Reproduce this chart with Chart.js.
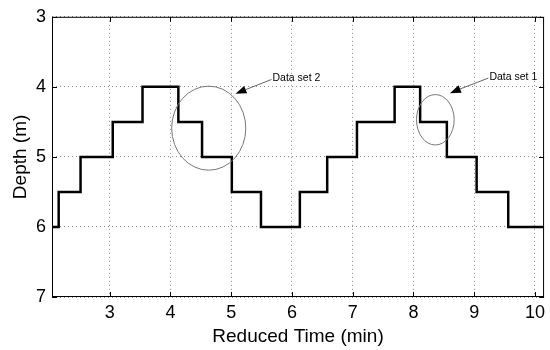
<!DOCTYPE html>
<html>
<head>
<meta charset="utf-8">
<script src="https://cdn.jsdelivr.net/npm/chart.js@4/dist/chart.umd.min.js"></script>
<style>
  html,body{margin:0;padding:0;background:#fff;}
  #wrap{width:550px;height:350px;}
</style>
</head>
<body>
<div id="wrap"><canvas id="c" width="550" height="350"></canvas></div>
<script>
// step profile: time where each depth level starts, and the depth held from there
const stepTimes  = [2.05, 2.16, 2.52, 3.05, 3.54, 4.13, 4.52, 5.01, 5.49, 6.13, 6.58, 7.07, 7.69, 8.11, 8.55, 9.04, 9.56, 10.15];
const stepDepths = [6, 5.5, 5, 4.5, 4, 4.5, 5, 5.5, 6, 5.5, 5, 4.5, 4, 4.5, 5, 5.5, 6, 6];
const xTicks = [3, 4, 5, 6, 7, 8, 9, 10];
const yTicks = [3, 4, 5, 6, 7];
const xRange = [2.05, 10.15];
const yRange = [3, 7];

// annotations (data units)
const noteLabels = ['Data set 2', 'Data set 1'];
const noteText   = [[5.68, 3.88], [9.25, 3.86]];
const noteTip    = [[5.07, 4.10], [8.60, 4.09]];
const ringCenter = [[4.63, 4.59], [8.36, 4.47]];
const ringRadius = [[0.61, 0.60], [0.31, 0.36]];

const FONT = '"Liberation Sans", Arial, Helvetica, sans-serif';

const framePlugin = {
  id: 'frame',
  afterDraw(chart){
    const {ctx, chartArea:a, scales:{x, y}} = chart;
    ctx.save();
    ctx.strokeStyle = '#000'; ctx.lineWidth = 1;
    ctx.strokeRect(a.left+0.5, a.top+0.5, a.right-a.left-1, a.bottom-a.top-1);
    // inward tick marks on all four sides
    ctx.beginPath();
    xTicks.forEach(v=>{
      const px = Math.round(x.getPixelForValue(v))+0.5;
      ctx.moveTo(px, a.bottom); ctx.lineTo(px, a.bottom-5);
      ctx.moveTo(px, a.top); ctx.lineTo(px, a.top+5);
    });
    yTicks.forEach(v=>{
      const py = Math.round(y.getPixelForValue(v))+0.5;
      ctx.moveTo(a.left, py); ctx.lineTo(a.left+5, py);
      ctx.moveTo(a.right, py); ctx.lineTo(a.right-5, py);
    });
    ctx.stroke();

    // ellipses
    ctx.strokeStyle = '#777'; ctx.lineWidth = 1;
    ringCenter.forEach((c,i)=>{
      const cx = x.getPixelForValue(c[0]), cy = y.getPixelForValue(c[1]);
      const rx = Math.abs(x.getPixelForValue(c[0]+ringRadius[i][0]) - cx);
      const ry = Math.abs(y.getPixelForValue(c[1]+ringRadius[i][1]) - cy);
      ctx.beginPath(); ctx.ellipse(cx, cy, rx, ry, 0, 0, Math.PI*2); ctx.stroke();
    });

    // arrows + labels
    ctx.font = '10.5px ' + FONT;
    ctx.textBaseline = 'middle'; ctx.textAlign = 'left';
    noteLabels.forEach((t,i)=>{
      const tx = x.getPixelForValue(noteText[i][0]), ty = y.getPixelForValue(noteText[i][1]);
      const hx = x.getPixelForValue(noteTip[i][0]), hy = y.getPixelForValue(noteTip[i][1]);
      const ang = Math.atan2(hy-ty, hx-tx);
      const len = 11, half = 4;
      const bx = hx - len*Math.cos(ang), by = hy - len*Math.sin(ang);
      ctx.strokeStyle = '#666';
      ctx.beginPath(); ctx.moveTo(tx-1, ty+1); ctx.lineTo(bx, by); ctx.stroke();
      ctx.fillStyle = '#000';
      ctx.beginPath();
      ctx.moveTo(hx, hy);
      ctx.lineTo(bx + half*Math.sin(ang), by - half*Math.cos(ang));
      ctx.lineTo(bx - half*Math.sin(ang), by + half*Math.cos(ang));
      ctx.closePath(); ctx.fill();
      ctx.fillText(t, tx, ty);
    });
    ctx.restore();
  }
};

new Chart(document.getElementById('c'), {
  type: 'line',
  data: {
    datasets: [{
      data: stepTimes.map((t,i)=>({x:t, y:stepDepths[i]})),
      stepped: 'before',
      borderColor: '#000',
      borderWidth: 2.5,
      pointRadius: 0,
      fill: false
    }]
  },
  options: {
    responsive: false,
    animation: false,
    events: [],
    layout: {padding: {top: 14, right: 2, left: 0, bottom: 0}},
    plugins: {legend: {display: false}, tooltip: {enabled: false}},
    scales: {
      x: {
        type: 'linear', min: xRange[0], max: xRange[1],
        afterBuildTicks: s => { s.ticks = xTicks.map(v=>({value:v})); },
        afterFit: s => { s.height = 53; },
        grid: {color: '#8a8a8a', lineWidth: 1, drawTicks: false},
        border: {display: false, dash: [1, 3]},
        ticks: {color: '#000', font: {family: FONT, size: 18}, padding: 5, maxRotation: 0},
        title: {display: true, text: 'Reduced Time (min)', color: '#000',
                font: {family: FONT, size: 19}, padding: {top: 0, bottom: 2}}
      },
      y: {
        type: 'linear', reverse: true, min: yRange[0], max: yRange[1],
        afterBuildTicks: s => { s.ticks = yTicks.map(v=>({value:v})); },
        afterFit: s => { s.width = 52; },
        grid: {color: '#8a8a8a', lineWidth: 1, drawTicks: false},
        border: {display: false, dash: [1, 3]},
        ticks: {color: '#000', font: {family: FONT, size: 18}, padding: 6},
        title: {display: true, text: 'Depth (m)', color: '#000',
                font: {family: FONT, size: 19}, padding: {top: 9, bottom: 0}}
      }
    }
  },
  plugins: [framePlugin]
});
</script>
</body>
</html>
